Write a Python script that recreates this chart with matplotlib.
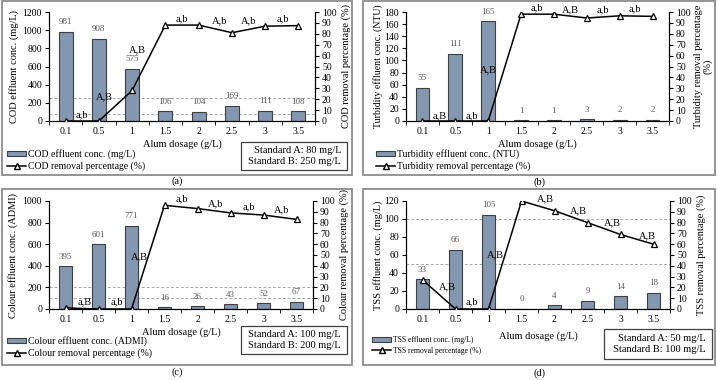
"""Alum dosage jar tests: effluent concentration (bars) and removal (line), 4 panels."""

import matplotlib
matplotlib.use("Agg")
import matplotlib.pyplot as plt
from matplotlib.patches import Patch, Rectangle
from matplotlib.lines import Line2D
import numpy as np

plt.rcParams["font.family"] = ["Liberation Serif", "DejaVu Serif"]

dosage = ["0.1", "0.5", "1", "1.5", "2", "2.5", "3", "3.5"]

cod_conc = [981, 908, 575, 106, 104, 169, 111, 108]
cod_removal = [0, 0, 28, 88, 88, 81, 87, 87.5]
cod_marks = ["a,b", "A,B", "A,B", "a,b", "A,b", "A,b", "a,b"]
cod_std = [80, 250]

turb_conc = [55, 111, 165, 1, 1, 3, 2, 2]
turb_removal = [0, 0, 0, 98, 98, 94.5, 96.5, 96]
turb_marks = ["a,B", "a,b", "A,B", "a,b", "A,B", "a,b", "a,b"]

col_conc = [395, 601, 771, 16, 26, 43, 52, 67]
col_removal = [1, 0, 0, 96, 93, 89, 87, 83]
col_marks = ["a,B", "a,b", "A,B", "a,b", "A,b", "a,b", "A,b"]
col_std = [100, 200]

tss_conc = [33, 66, 105, 0, 4, 9, 14, 18]
tss_removal = [27, 0, 0, 100, 91, 80, 69, 60]
tss_marks = ["A,B", "a,b", "A,B", "A,B", "A,B", "A,B", "A,B"]
tss_std = [50, 100]

BAR = "#8497b0"
EDGE = "#3f3f3f"
BORDER = "#8c8c8c"
W, H = 717, 380


def fx(p):
    return p / W


def fy(p):
    return 1 - p / H


fig = plt.figure(figsize=(W / 100, H / 100), dpi=100)


def panel(cap, box, axbox, conc, removal, marks, mark_pos, ymax, ystep,
          lname, rname, bar_label, line_label, std, std_box, leg_xy, leg_fs,
          lab_x, lab_fs, xlab_y, cap_y):
    # grey frame around the panel
    bx0, by0, bx1, by1 = box
    fig.patches.append(Rectangle((fx(bx0), fy(by1)), (bx1 - bx0) / W, (by1 - by0) / H,
                                 transform=fig.transFigure, fill=False,
                                 ec=BORDER, lw=1.3))
    l, t, r, b = axbox
    ax = fig.add_axes([fx(l), fy(b), (r - l) / W, (b - t) / H])
    x = np.arange(len(dosage))
    ax.bar(x, conc, width=0.42, color=BAR, edgecolor=EDGE, lw=0.8, zorder=2)
    for xi, v in zip(x, conc):
        ax.annotate(str(v), (xi, v), xytext=(0, 4), textcoords="offset points",
                    ha="center", va="bottom", fontsize=6.5, color="#595959")
    for s in std or []:
        ax.axhline(s, color="#a6a6a6", ls=(0, (3, 2)), lw=0.7, zorder=1)
    ax.set_xlim(-0.5, 7.5)
    ax.set_ylim(0, ymax)
    ax.set_yticks(np.arange(0, ymax + 1, ystep))
    ax.set_xticks(x)
    ax.set_xticklabels(dosage)
    ax.set_xticks(np.arange(-0.5, 8, 1), minor=True)
    ax.tick_params(axis="x", which="major", length=0, labelsize=7, pad=4)
    ax.tick_params(axis="x", which="minor", length=3, direction="out")
    ax.tick_params(axis="y", length=3, labelsize=7, pad=2)
    ax.spines["top"].set_visible(False)
    ax.set_ylabel(lname, fontsize=lab_fs)
    ax.yaxis.set_label_coords(lab_x[0], 0.5)
    ax.set_xlabel("Alum dosage (g/L)", fontsize=7.5)
    ax.xaxis.set_label_coords(0.5, xlab_y)

    ax2 = ax.twinx()
    ax2.plot(x, removal, color="black", lw=1.1, marker="^", ms=5,
             mfc="white", mec="black", mew=0.9, zorder=3)
    ax2.set_ylim(0, 100)
    ax2.set_yticks(np.arange(0, 101, 10))
    ax2.tick_params(axis="y", length=3, labelsize=7, pad=2)
    ax2.spines["top"].set_visible(False)
    ax2.set_ylabel(rname, fontsize=7.5, linespacing=1.0)
    ax2.yaxis.set_label_coords(lab_x[1], 0.5)
    for m, (px, py) in zip(marks, mark_pos):
        ax2.text(px, py, m, ha="center", va="center", fontsize=7.5, clip_on=False)

    handles = [Patch(fc=BAR, ec=EDGE, lw=0.8),
               Line2D([], [], color="black", lw=1.1, marker="^", ms=5,
                      mfc="white", mec="black")]
    fig.legend(handles, [bar_label, line_label], loc="upper left",
               bbox_to_anchor=(fx(leg_xy[0]), fy(leg_xy[1])), frameon=False,
               fontsize=leg_fs, handlelength=2.0 * 7 / leg_fs,
               handleheight=0.45 * 7 / leg_fs, handletextpad=0.15,
               labelspacing=0.3 * 7 / leg_fs, borderpad=0, borderaxespad=0)

    if std_box:
        sx0, sy0, sx1, sy1 = std_box
        fig.patches.append(Rectangle((fx(sx0), fy(sy1)), (sx1 - sx0) / W,
                                     (sy1 - sy0) / H, transform=fig.transFigure,
                                     fill=False, ec="#404040", lw=0.9))
        fig.text(fx(sx1 - 6), fy((sy0 + sy1) / 2),
                 f"Standard A: {std[0]} mg/L\nStandard B: {std[1]} mg/L",
                 ha="right", va="center", fontsize=7.5, linespacing=1.2)
    fig.text(fx((bx0 + bx1) / 2), fy(cap_y), cap, ha="center", va="center",
             fontsize=7.5)


panel("(a)", (2, 1, 352, 175), (49, 12, 315, 121), cod_conc, cod_removal, cod_marks,
      [(0.5, 6), (1.18, 22.5), (2.16, 65), (3.51, 94), (4.63, 92), (5.5, 92), (6.52, 94)],
      1200, 200, "COD effluent conc. (mg/L)", "COD removal percentage (%)",
      "COD effluent conc. (mg/L)", "COD removal percentage (%)",
      cod_std, (241, 142, 347, 170), (7, 149), 7, (-0.113, 1.10), 7.5, -0.17, 181)

panel("(b)", (363, 1, 715, 175), (406, 12, 669, 121), turb_conc, turb_removal, turb_marks,
      [(0.52, 4.4), (1.49, 4.4), (2.0, 47), (3.47, 103.7), (4.5, 102), (5.48, 102), (6.45, 103)],
      180, 20, "Turbidity effluent conc. (NTU)", "Turbidity removal percentage\n(%)",
      "Turbidity effluent conc. (NTU)", "Turbidity removal percentage (%)",
      None, None, (376, 149), 7, (-0.087, 1.095), 7.1, -0.165, 182)

panel("(c)", (2, 189, 352, 365), (49, 201, 313, 309), col_conc, col_removal, col_marks,
      [(0.57, 6.7), (1.55, 6.7), (2.23, 48), (3.53, 102), (4.55, 97), (5.55, 95), (6.55, 92)],
      1000, 200, "Colour effluent conc. (ADMI)", "Colour removal percentage (%)",
      "Colour effluent conc. (ADMI)", "Colour removal percentage (%)",
      col_std, (241, 326, 347, 354), (7, 336), 7, (-0.117, 1.10), 7.5, -0.167, 372)

panel("(d)", (363, 189, 715, 365), (406, 201, 670, 309), tss_conc, tss_removal, tss_marks,
      [(0.76, 21), (1.49, 6.4), (2.2, 50), (3.72, 102), (4.73, 91), (5.74, 80), (6.83, 67.5)],
      120, 20, "TSS effluent conc. (mg/L)", "TSS removal percentage (%)",
      "TSS effluent conc. (mg/L)", "TSS removal percentage (%)",
      tss_std, (604, 329, 712, 359), (372, 336), 5.5, (-0.087, 1.10), 7.5, -0.21, 373)

fig.savefig("out.png", dpi=100)
